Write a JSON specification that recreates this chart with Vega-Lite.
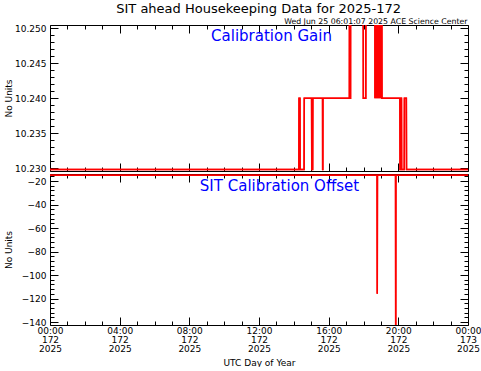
{
  "$schema": "https://vega.github.io/schema/vega-lite/v6.json",
  "background": "white",
  "padding": {"left": 4, "top": 2, "right": 0, "bottom": 0},
  "config": {
    "font": "DejaVu Sans",
    "view": {"stroke": null},
    "axis": {"domainColor": "black", "tickColor": "black", "labelColor": "black", "titleColor": "black", "grid": false, "labelFont": "DejaVu Sans", "titleFont": "DejaVu Sans", "labelFontSize": 9, "titleFontSize": 9, "titleFontWeight": "normal", "labelOverlap": false, "labelFlush": false, "labelBound": false, "domainWidth": 1, "tickWidth": 1},
    "title": {"font": "DejaVu Sans", "fontWeight": "normal", "color": "black"}
  },
  "title": {"text": "SIT ahead Housekeeping Data for 2025-172", "fontSize": 13, "anchor": "middle", "offset": 2, "dx": 16},
  "spacing": 3,
  "bounds": "flush",
  "datasets": {
    "gain": [
      {"t": 0, "v": 10.2298}, {"t": 14.29, "v": 10.2298}, {"t": 14.30, "v": 10.24}, {"t": 14.35, "v": 10.24}, {"t": 14.36, "v": 10.2298},
      {"t": 14.59, "v": 10.2298}, {"t": 14.60, "v": 10.24}, {"t": 15.02, "v": 10.24}, {"t": 15.03, "v": 10.2298}, {"t": 15.08, "v": 10.2298},
      {"t": 15.09, "v": 10.24}, {"t": 15.65, "v": 10.24}, {"t": 15.655, "v": 10.2298}, {"t": 15.665, "v": 10.2298}, {"t": 15.67, "v": 10.24},
      {"t": 17.19, "v": 10.24}, {"t": 17.20, "v": 10.27}, {"t": 17.24, "v": 10.27}, {"t": 17.25, "v": 10.24}, {"t": 17.255, "v": 10.24},
      {"t": 17.26, "v": 10.27}, {"t": 17.98, "v": 10.27}, {"t": 17.99, "v": 10.24}, {"t": 18.13, "v": 10.24}, {"t": 18.14, "v": 10.27},
      {"t": 18.65, "v": 10.27}, {"t": 18.66, "v": 10.24}, {"t": 18.68, "v": 10.27}, {"t": 18.70, "v": 10.24}, {"t": 18.72, "v": 10.27},
      {"t": 18.74, "v": 10.24}, {"t": 18.76, "v": 10.27}, {"t": 18.78, "v": 10.24}, {"t": 18.80, "v": 10.27}, {"t": 18.82, "v": 10.24},
      {"t": 18.84, "v": 10.27}, {"t": 18.86, "v": 10.24}, {"t": 18.88, "v": 10.27}, {"t": 18.90, "v": 10.24}, {"t": 18.92, "v": 10.27},
      {"t": 18.94, "v": 10.24}, {"t": 18.96, "v": 10.27}, {"t": 18.98, "v": 10.24}, {"t": 19.00, "v": 10.27}, {"t": 19.02, "v": 10.24},
      {"t": 19.04, "v": 10.27}, {"t": 19.06, "v": 10.24}, {"t": 20.09, "v": 10.24}, {"t": 20.10, "v": 10.2298}, {"t": 20.13, "v": 10.2298},
      {"t": 20.14, "v": 10.24}, {"t": 20.18, "v": 10.24}, {"t": 20.19, "v": 10.2298}, {"t": 20.34, "v": 10.2298}, {"t": 20.35, "v": 10.24},
      {"t": 20.46, "v": 10.24}, {"t": 20.47, "v": 10.2298}, {"t": 24, "v": 10.2298}
    ],
    "offset": [
      {"t": 0, "v": -15}, {"t": 18.78, "v": -15}, {"t": 18.79, "v": -116}, {"t": 18.80, "v": -15},
      {"t": 19.84, "v": -15}, {"t": 19.85, "v": -170}, {"t": 19.86, "v": -15}, {"t": 24, "v": -15}
    ]
  },
  "vconcat": [
    {
      "width": 418,
      "height": 146,
      "title": {"text": "Wed Jun 25 06:01:07 2025 ACE Science Center", "anchor": "end", "fontSize": 7.8, "offset": -1, "dx": -1},
      "data": {"name": "gain"},
      "layer": [
        {
          "mark": {"type": "line", "color": "#ff0000", "strokeWidth": 1.5, "clip": true},
          "encoding": {
            "x": {"field": "t", "type": "quantitative", "scale": {"domain": [0, 24], "nice": false},
              "axis": {"orient": "bottom", "title": null, "labels": false, "values": [0,1,2,3,4,5,6,7,8,9,10,11,12,13,14,15,16,17,18,19,20,21,22,23,24],
                "tickSize": {"condition": {"test": "datum.value % 4 === 0", "value": -8}, "value": -4}}},
            "y": {"field": "v", "type": "quantitative", "scale": {"domain": [10.2296, 10.2505], "nice": false, "zero": false},
              "axis": {"orient": "left", "title": "No Units", "titlePadding": 1, "labelPadding": 12,
                "values": [10.230,10.231,10.232,10.233,10.234,10.235,10.236,10.237,10.238,10.239,10.240,10.241,10.242,10.243,10.244,10.245,10.246,10.247,10.248,10.249,10.250],
                "labelExpr": "abs(round(datum.value*1000)) % 5 === 0 ? format(datum.value, '.3f') : ''",
                "tickSize": {"condition": {"test": "abs(round(datum.value*1000)) % 5 === 0", "value": -8}, "value": -4}}}
          }
        },
        {
          "mark": {"type": "line", "color": "#ff0000", "strokeWidth": 1.5, "clip": true},
          "encoding": {
            "x": {"field": "t", "type": "quantitative", "scale": {"domain": [0, 24], "nice": false},
              "axis": {"orient": "top", "labels": false, "values": [0,1,2,3,4,5,6,7,8,9,10,11,12,13,14,15,16,17,18,19,20,21,22,23,24],
                "tickSize": {"condition": {"test": "datum.value % 4 === 0", "value": -8}, "value": -4},
                "title": "Calibration Gain", "titleColor": "#0000ff", "titleFontSize": 15, "titleBaseline": "middle", "titleX": 221, "titleY": 10}},
            "y": {"field": "v", "type": "quantitative", "scale": {"domain": [10.2296, 10.2505], "nice": false, "zero": false},
              "axis": {"orient": "right", "title": null, "labels": false,
                "values": [10.230,10.231,10.232,10.233,10.234,10.235,10.236,10.237,10.238,10.239,10.240,10.241,10.242,10.243,10.244,10.245,10.246,10.247,10.248,10.249,10.250],
                "tickSize": {"condition": {"test": "abs(round(datum.value*1000)) % 5 === 0", "value": -8}, "value": -4}}}
          }
        }
      ],
      "resolve": {"axis": {"x": "independent", "y": "independent"}}
    },
    {
      "width": 418,
      "height": 151,
      "data": {"name": "offset"},
      "layer": [
        {
          "mark": {"type": "line", "color": "#ff0000", "strokeWidth": 1.5, "clip": true},
          "encoding": {
            "x": {"field": "t", "type": "quantitative", "scale": {"domain": [0, 24], "nice": false},
              "axis": {"orient": "bottom", "title": "UTC Day of Year", "titlePadding": 5, "labelPadding": 9, "labelLineHeight": 9, "labelBaseline": "top",
                "values": [0,1,2,3,4,5,6,7,8,9,10,11,12,13,14,15,16,17,18,19,20,21,22,23,24],
                "labelExpr": "datum.value % 4 === 0 ? [(datum.value % 24 < 10 ? '0' : '') + (datum.value % 24) + ':00', datum.value === 24 ? '173' : '172', '2025'] : ''",
                "tickSize": {"condition": {"test": "datum.value % 4 === 0", "value": -8}, "value": -4}}},
            "y": {"field": "v", "type": "quantitative", "scale": {"domain": [-142.5, -14], "nice": false, "zero": false},
              "axis": {"orient": "left", "title": "No Units", "titlePadding": 8, "labelPadding": 12,
                "values": [-140,-136,-132,-128,-124,-120,-116,-112,-108,-104,-100,-96,-92,-88,-84,-80,-76,-72,-68,-64,-60,-56,-52,-48,-44,-40,-36,-32,-28,-24,-20,-16],
                "labelExpr": "datum.value % 20 === 0 ? format(datum.value, 'd') : ''",
                "tickSize": {"condition": {"test": "datum.value % 20 === 0", "value": -8}, "value": -4}}}
          }
        },
        {
          "mark": {"type": "line", "color": "#ff0000", "strokeWidth": 1.5, "clip": true},
          "encoding": {
            "x": {"field": "t", "type": "quantitative", "scale": {"domain": [0, 24], "nice": false},
              "axis": {"orient": "top", "labels": false, "values": [0,1,2,3,4,5,6,7,8,9,10,11,12,13,14,15,16,17,18,19,20,21,22,23,24],
                "tickSize": {"condition": {"test": "datum.value % 4 === 0", "value": -8}, "value": -4},
                "title": "SIT Calibration Offset", "titleColor": "#0000ff", "titleFontSize": 15, "titleBaseline": "middle", "titleX": 229, "titleY": 11}},
            "y": {"field": "v", "type": "quantitative", "scale": {"domain": [-142.5, -14], "nice": false, "zero": false},
              "axis": {"orient": "right", "title": null, "labels": false,
                "values": [-140,-136,-132,-128,-124,-120,-116,-112,-108,-104,-100,-96,-92,-88,-84,-80,-76,-72,-68,-64,-60,-56,-52,-48,-44,-40,-36,-32,-28,-24,-20,-16],
                "tickSize": {"condition": {"test": "datum.value % 20 === 0", "value": -8}, "value": -4}}}
          }
        }
      ],
      "resolve": {"axis": {"x": "independent", "y": "independent"}}
    }
  ]
}
